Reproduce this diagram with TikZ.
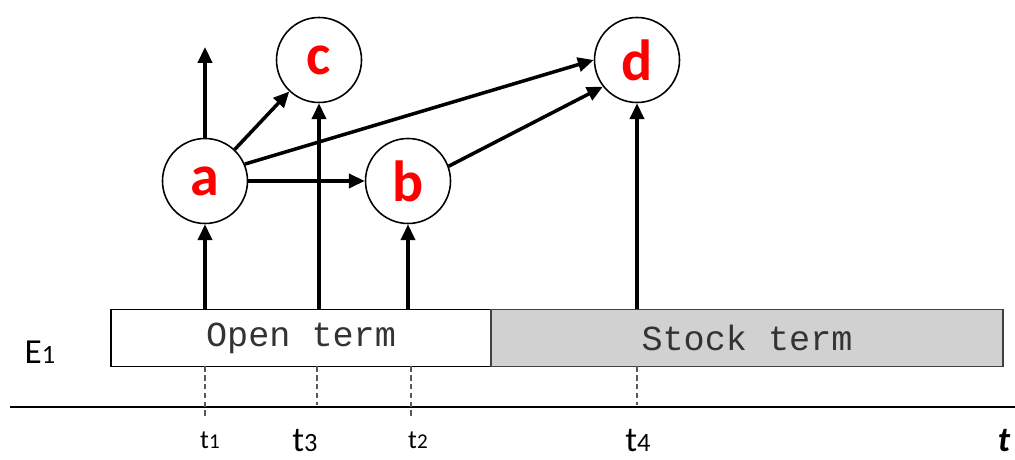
\documentclass[tikz,border=0pt]{standalone}
\usepackage{fontspec}
\setmainfont{Carlito}
\setmonofont{Liberation Mono}
\usetikzlibrary{arrows.meta}

\tikzset{
  ev/.style={circle,draw,line width=0.9pt,minimum size=1.7cm,inner sep=0pt,
    text=red,font=\bfseries\fontsize{33}{36}\selectfont},
  flow/.style={line width=2pt,-{Triangle[length=9pt,width=8pt]}},
  term/.style={draw,line width=0.8pt,minimum height=1.14cm,inner sep=0pt,
    text=black!80,font=\ttfamily\fontsize{20}{24}\selectfont},
  tick/.style={dashed,dash pattern=on 3pt off 2pt,gray!70!black,line width=0.6pt}
}
\newcommand{\tlab}[3]{{\fontsize{#1}{#1}\selectfont t}{\fontsize{#2}{#2}\selectfont #3}}

\begin{document}
\begin{tikzpicture}
  \useasboundingbox (0,0) rectangle (20.3,9.18);

  % the two terms of E1
  \node[term,minimum width=7.6cm] (open) at (6.02,2.42) {Open term};
  \node[term,minimum width=10.24cm,fill=black!18,draw=black!75] (stock) at (14.94,2.42) {Stock term};
  \node (e1) at (0.8,2.14) {\fontsize{20}{20}\selectfont E\fontsize{15}{15}\selectfont 1};

  % time axis
  \draw[line width=0.8pt] (0.2,1.04) -- (20.3,1.04);
  \foreach \x/\y in {4.1/0.82, 6.34/1.08, 8.22/0.82, 12.74/1.08}
    \draw[tick] (\x,1.85) -- (\x,\y);
  \node[inner sep=1pt] (lt1) at (4.2,0.38)   {\tlab{15}{12}{1}};
  \node[inner sep=1pt] (lt3) at (6.1,0.36)   {\tlab{20}{15}{3}};
  \node[inner sep=1pt] (lt2) at (8.36,0.38)  {\tlab{15}{12}{2}};
  \node[inner sep=1pt] (lt4) at (12.76,0.36) {\tlab{20}{15}{4}};
  \node[inner sep=1pt] (lt)  at (20.08,0.36) {\bfseries\itshape\fontsize{20}{20}\selectfont t};

  % events
  \node[ev] (na) at (4.1,5.56)  {a};
  \node[ev] (nb) at (8.16,5.56) {b};
  \node[ev] (nc) at (6.38,7.98) {c};
  \node[ev] (nd) at (12.74,7.98) {d};
  \coordinate (up) at (4.1,8.24);

  \draw[flow] (open.north -| na) -- (na);
  \draw[flow] (open.north -| nc) -- (nc);
  \draw[flow] (open.north -| nb) -- (nb);
  \draw[flow] (stock.north -| nd) -- (nd);
  \draw[flow] (na) -- (up);
  \foreach \from/\to in {na/nb, na/nc, na.23/nd.west, nb.20/nd.218}
    \draw[flow] (\from) -- (\to);
\end{tikzpicture}
\end{document}
